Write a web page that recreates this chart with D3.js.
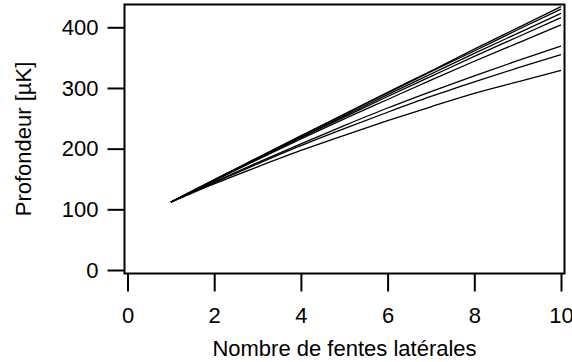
<!DOCTYPE html>
<html><head><meta charset="utf-8">
<script src="https://cdn.jsdelivr.net/npm/d3@7"></script>
<style>
html,body{margin:0;padding:0;background:#fff;}
text{font-family:"Liberation Sans",Arial,Helvetica,sans-serif;}
</style>
</head><body>
<svg id="chart" width="572" height="362"></svg>
<script>
const xValues = [1,2,3,4,5,6,7,8,9,10];
const series1 = [112,149,185,221,257,293,328,364,399,434];
const series2 = [112,148,185,221,256,292,327,361,396,430];
const series3 = [112,148,184,219,254,289,323,357,390,423];
const series4 = [112,148,183,218,252,286,319,352,384,416];
const series5 = [112,147,182,216,249,281,313,344,374,404];
const series6 = [112,145,177,208,238,267,294,320,345,369];
const series7 = [112,144,175,205,233,260,286,310,333,355];
const series8 = [112,142,170,197,222,246,269,291,310,329];
const allSeries = [series1,series2,series3,series4,series5,series6,series7,series8];
const xTicks = [0,2,4,6,8,10];
const yTicks = [0,100,200,300,400];
const xTitle = "Nombre de fentes latérales";
const yTitle = "Profondeur [µK]";

const svg = d3.select("#chart");
const frame = {left:124.5, right:564.5, top:4.5, bottom:273.5};
const x = d3.scaleLinear().domain([0,10]).range([127.5,561]);
const y = d3.scaleLinear().domain([0,400]).range([270,27.3]);

// frame
svg.append("rect")
  .attr("x",frame.left).attr("y",frame.top)
  .attr("width",frame.right-frame.left).attr("height",frame.bottom-frame.top)
  .attr("fill","none").attr("stroke","#000").attr("stroke-width",2);

// lines
const line = d3.line().x((d,i)=>x(xValues[i])).y(d=>y(d)).curve(d3.curveMonotoneX);
svg.append("g").selectAll("path").data(allSeries).join("path")
  .attr("d",line).attr("fill","none").attr("stroke","#000").attr("stroke-width",1.3);

// y axis
const yAx = svg.append("g").attr("transform",`translate(${frame.left},0)`)
  .call(d3.axisLeft(y).tickValues(yTicks).tickSize(17).tickPadding(9).tickFormat(d3.format("d")));
yAx.select(".domain").remove();
yAx.selectAll("line").attr("stroke","#000").attr("stroke-width",2);
yAx.selectAll("text").attr("font-size",22).attr("fill","#000")
  .attr("font-family","'Liberation Sans',Arial,sans-serif");

// x axis
const xAx = svg.append("g").attr("transform",`translate(0,${frame.bottom})`)
  .call(d3.axisBottom(x).tickValues(xTicks).tickSize(18).tickPadding(16).tickFormat(d3.format("d")));
xAx.select(".domain").remove();
xAx.selectAll("line").attr("stroke","#000").attr("stroke-width",2);
xAx.selectAll("text").attr("font-size",22).attr("fill","#000")
  .attr("font-family","'Liberation Sans',Arial,sans-serif");

// titles
svg.append("text").attr("x",(frame.left+frame.right)/2).attr("y",356)
  .attr("text-anchor","middle").attr("font-size",22).text(xTitle);
svg.append("text").attr("transform",`translate(31,${(frame.top+frame.bottom)/2}) rotate(-90)`)
  .attr("text-anchor","middle").attr("font-size",22).text(yTitle);
</script>
</body></html>
